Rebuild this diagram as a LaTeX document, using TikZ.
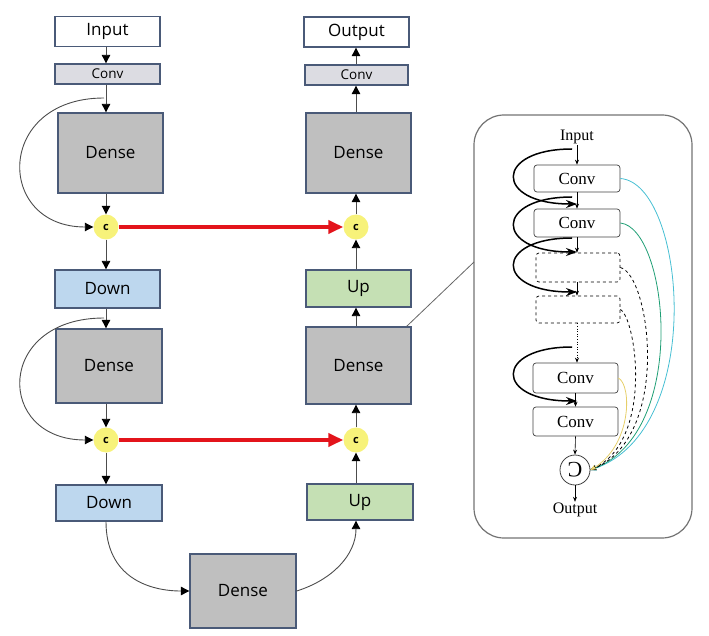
\documentclass[tikz,border=0pt]{standalone}
\usepackage{fontspec}
\usepackage{graphicx}
\setsansfont{Open Sans}
\newfontfamily\panelfont{Liberation Serif}
\usetikzlibrary{arrows.meta,calc}
\definecolor{edge}{HTML}{4A5A78}
\definecolor{densefill}{HTML}{BFBFBF}
\definecolor{downfill}{HTML}{BDD7EE}
\definecolor{upfill}{HTML}{C5E0B4}
\definecolor{convfill}{HTML}{DCDCE2}
\definecolor{catfill}{HTML}{F7F27A}
\definecolor{skipred}{HTML}{E3141B}
\definecolor{lineA}{HTML}{46BFD3}
\definecolor{lineB}{HTML}{1E9E74}
\definecolor{lineC}{HTML}{E6CF6A}
\begin{document}
\begin{tikzpicture}[x=1pt,y=-1pt,
		blk/.style={draw=edge,line width=1.3pt,inner sep=0pt,minimum width=105pt,font=\sffamily\fontsize{17}{19}\selectfont},
		cat/.style={circle,fill=catfill,inner sep=0pt,minimum size=25pt,font=\sffamily\bfseries\fontsize{11}{12}\selectfont},
		flow/.style={draw=black!70,line width=0.9pt,-{Triangle[length=8.5pt,width=8.5pt,color=black]}},
		skip/.style={draw=skipred,line width=4pt,-{Triangle[length=15pt,width=13pt]}},
		cbox/.style={draw=black!75,rounded corners=3pt,line width=0.7pt,inner sep=0pt,minimum width=86pt,minimum height=28pt,font=\panelfont\fontsize{17}{18}\selectfont},
		dbox/.style={cbox,draw=black,dashed},
		thin/.style={line width=0.6pt,-{Stealth[length=5pt,width=4pt]}},
		loopy/.style={line width=1.5pt,-{Stealth[length=11pt,width=8pt]}},
		fan/.style={line width=0.8pt,-{Stealth[length=6pt,width=5pt]}}]
	\useasboundingbox (0,0) rectangle (709,636);
	% encoder side
	\node[blk,fill=white,minimum height=30pt] (in) at (107.5,31.5) {Input};
	\node[blk,fill=convfill,minimum height=20pt,font=\sffamily\fontsize{13.5}{14}\selectfont] (convL) at (107.5,74) {Conv};
	\node[blk,fill=densefill,minimum height=80pt] (denseL1) at (110.5,153) {Dense};
	\node[cat] (cL1) at (106,227) {c};
	\node[blk,fill=downfill,minimum height=38pt] (downL1) at (107.5,289) {Down};
	\node[blk,fill=densefill,minimum width=106pt,minimum height=74pt] (denseL2) at (109,366) {Dense};
	\node[cat] (cL2) at (106,440) {c};
	\node[blk,fill=downfill,minimum width=106pt,minimum height=36pt] (downL2) at (109,503) {Down};
	\node[blk,fill=densefill,minimum width=106pt,minimum height=74pt] (denseB) at (243,591) {Dense};
	% decoder side
	\node[blk,fill=white,minimum height=30pt] (out) at (356.5,32) {Output};
	\node[blk,fill=convfill,minimum width=103pt,minimum height=20pt,font=\sffamily\fontsize{13.5}{14}\selectfont] (convR) at (356.5,75) {Conv};
	\node[blk,fill=densefill,minimum height=80pt] (denseR1) at (358.5,153) {Dense};
	\node[cat] (cR1) at (356,227) {c};
	\node[blk,fill=upfill,minimum height=37pt] (upR1) at (358.5,288.5) {Up};
	\node[blk,fill=densefill,minimum height=77pt] (denseR2) at (358.5,365.5) {Dense};
	\node[cat] (cR2) at (356,440) {c};
	\node[blk,fill=upfill,minimum width=106pt,minimum height=36pt] (upR2) at (360,502) {Up};

	\draw[flow] (cL1 |- in.south) -- (cL1 |- convL.north);
	\draw[flow] (cL1 |- convL.south) -- (cL1 |- denseL1.north);
	\draw[flow] (cL1 |- denseL1.south) -- (cL1.north);
	\draw[flow] (cL1.south) -- (cL1 |- downL1.north);
	\draw[flow] (cL1 |- downL1.south) -- (cL1 |- denseL2.north);
	\draw[flow] (cL2 |- denseL2.south) -- (cL2.north);
	\draw[flow] (cL2.south) -- (cL2 |- downL2.north);
	\draw[flow] (cR1.north) -- (cR1 |- denseR1.south);
	\draw[flow] (cR1 |- denseR1.north) -- (cR1 |- convR.south);
	\draw[flow] (cR1 |- convR.north) -- (cR1 |- out.south);
	\draw[flow] (cR1 |- upR1.north) -- (cR1.south);
	\draw[flow] (cR1 |- denseR2.north) -- (cR1 |- upR1.south);
	\draw[flow] (cR2.north) -- (cR2 |- denseR2.south);
	\draw[flow] (cR2 |- upR2.north) -- (cR2.south);

	\coordinate (splitL1) at (104,98);
	\coordinate (splitL2) at (104,318);
	\draw[flow] (splitL1) .. controls (-5,98) and (-5,227) .. (cL1.west);
	\draw[flow] (splitL2) .. controls (-5,318) and (-5,440) .. (cL2.west);
	\draw[flow] (cL2 |- downL2.south) .. controls (106,578) and (150,591) .. (denseB.west);
	\draw[flow] (denseB.east) .. controls (332,580) and (356,555) .. (cR2 |- upR2.south);
	\draw[skip] (cL1.east) -- (cR1.west);
	\draw[skip] (cL2.east) -- (cR2.west);

	% dense block detail
	\node[draw=black!55,line width=1.2pt,rounded corners=30pt,minimum width=218pt,minimum height=423pt] (panel) at (583,326.5) {};
	\coordinate (tap) at (474,262);
	\draw[black!60,line width=0.8pt] ($(denseR2.north east)+(-5,0)$) -- (tap);
	\node[font=\panelfont\fontsize{16}{18}\selectfont,inner sep=1pt] (pin) at (577,137) {Input};
	\node[cbox,minimum height=27pt] (cv1) at (577,178.5) {Conv};
	\node[cbox] (cv2) at (577,223) {Conv};
	\node[dbox,minimum width=84pt,minimum height=29pt] (dsh1) at (578,267.5) {};
	\node[dbox,minimum width=84pt,minimum height=27pt] (dsh2) at (578,309.5) {};
	\node[cbox,minimum width=85pt,minimum height=30pt] (cv3) at (575.5,378) {Conv};
	\node[cbox,minimum width=85pt,minimum height=29pt] (cv4) at (575.5,421.5) {Conv};
	\node[draw=black!75,circle,line width=0.8pt,inner sep=0pt,minimum size=30pt,font=\panelfont\fontsize{22}{22}\selectfont] (join) at (575,470) {\rotatebox{180}{C}};
	\node[font=\panelfont\fontsize{16}{18}\selectfont,inner sep=1pt] (pout) at (575,510) {Output};

	\draw[thin] (pin.south -| cv1.north) -- (cv1.north);
	\draw[thin] (cv1.south) -- (cv2.north);
	\draw[thin] (cv2.south) -- (cv2.south |- dsh1.north);
	\draw[thin] (cv2.south |- dsh1.south) -- (cv2.south |- dsh2.north);
	\draw[thin,dotted] (cv2.south |- dsh2.south) -- (cv2.south |- cv3.north);
	\draw[thin] (cv3.south) -- (cv4.north);
	\draw[thin] (cv4.south) -- (join.north);
	\draw[thin] (join.south) -- (pout.north);

	\coordinate (r1a) at (572,149);
	\coordinate (r1b) at (577,204);
	\coordinate (r2a) at (572,197);
	\coordinate (r2b) at (577,252);
	\coordinate (r3a) at (572,238);
	\coordinate (r3b) at (577,292);
	\coordinate (r4a) at (572,347);
	\coordinate (r4b) at (577,401);
	\foreach \r in {1,2,3,4}
		\draw[loopy] (r\r a) .. controls ($(r\r a)+(-78,0)$) and ($(r\r b)+(-83,0)$) .. (r\r b);

	\draw[fan,lineA] (cv1.east) .. controls (685,183) and (708,430) .. (join.east);
	\draw[fan,lineB] (cv2.east) .. controls (668,228) and (690,432) .. (join.east);
	\draw[fan,dashed] (dsh1.east) .. controls (650,275) and (672,436) .. (join.east);
	\draw[fan,dashed] (dsh2.east) .. controls (636,318) and (654,440) .. (join.east);
	\draw[fan,lineC] (cv3.east) .. controls (632,385) and (632,445) .. (join.east);
\end{tikzpicture}
\end{document}
